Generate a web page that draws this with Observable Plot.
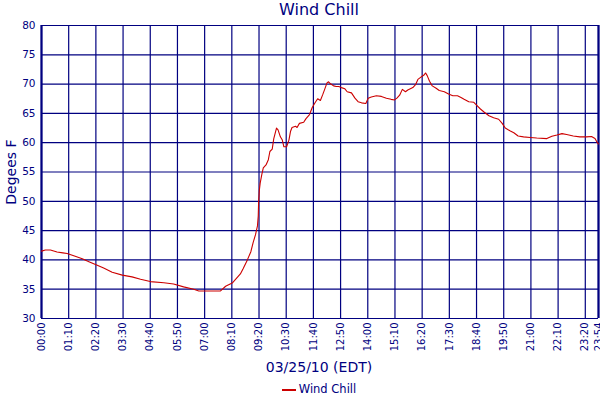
<!DOCTYPE html>
<html>
<head>
<meta charset="utf-8">
<script src="https://cdn.jsdelivr.net/npm/d3@7"></script>
<script src="https://cdn.jsdelivr.net/npm/@observablehq/plot@0.6"></script>
<style>
  html, body { margin: 0; padding: 0; background: #fff; }
  body { width: 600px; height: 400px; overflow: hidden; font-family: "DejaVu Sans", sans-serif; color: #000080; }
  #title { height: 22px; line-height: 20px; font-size: 16px; text-align: center; padding-left: 38px; box-sizing: border-box; }
  #xlabel { height: 24px; line-height: 25px; font-size: 14px; text-align: center; padding-left: 38px; box-sizing: border-box; }
  #legend { height: 21px; line-height: 21px; font-size: 11.5px; text-align: center; padding-left: 38px; box-sizing: border-box; }
  #legend .sw { display: inline-block; width: 14px; height: 0; border-top: 2px solid #cc0000; vertical-align: middle; margin-right: 3px; }
  svg { display: block; overflow: visible; }
</style>
</head>
<body>
<div id="title">Wind Chill</div>
<div id="chart"></div>
<div id="xlabel">03/25/10 (EDT)</div>
<div id="legend"><span class="sw"></span>Wind Chill</div>
<script>
const minutes = [0,10,23,40,55,66,83,105,122,139,160,182,208,233,255,280,315,340,366,392,405,461,474,491,512,519,530,539,545,551,556,558,559,561,563,567,571,578,584,588,594,598,605,609,615,620,624,631,637,641,645,654,658,664,675,681,690,697,705,711,718,724,729,735,739,744,752,759,765,772,781,787,798,807,815,824,835,841,849,862,875,888,900,909,915,922,929,937,943,956,963,969,977,984,989,993,999,1006,1016,1024,1037,1048,1059,1071,1080,1088,1100,1113,1122,1130,1140,1152,1164,1177,1186,1194,1207,1216,1227,1241,1258,1275,1301,1314,1327,1340,1352,1369,1386,1403,1416,1425,1431,1434];
const windChill = [41.5,41.7,41.7,41.35,41.2,41.1,40.7,40.2,39.7,39.2,38.6,37.9,37.4,37.1,36.7,36.3,36.1,35.9,35.4,35.0,34.7,34.7,35.5,36.05,37.6,38.5,40.0,41.4,43,44.3,45.8,47.5,50,52,53.1,54.5,55.7,56.2,57.1,58.5,58.9,60.7,62.5,62.2,61,60.45,59.3,59.3,60.45,61.9,62.6,62.8,62.6,63.3,63.5,64.1,64.8,66,66.9,67.5,67.2,68.2,69.1,70.2,70.4,70.05,69.7,69.6,69.6,69.4,69.2,68.7,68.5,67.6,67.0,66.8,66.7,67.6,67.8,68,67.9,67.6,67.4,67.3,67.6,68.1,69.1,68.7,69,69.4,69.9,70.8,71.2,71.5,71.9,71.45,70.5,69.7,69.3,68.9,68.7,68.3,68.0,68.0,67.7,67.4,67.0,66.9,66.3,65.75,65.2,64.6,64.25,64.0,63.3,62.5,62.0,61.7,61.15,61.0,60.9,60.8,60.7,61.1,61.3,61.55,61.4,61.15,61.0,61.0,61.05,60.7,60.0,59.8];
const xTicks = [0,70,140,210,280,350,420,490,560,630,700,770,840,910,980,1050,1120,1190,1260,1330,1400,1434];
const yTicks = [30,35,40,45,50,55,60,65,70,75,80];
const yLabel = ["Degees F"];

const navy = "#000080";
const fmt = m => String(Math.floor(m / 60)).padStart(2, "0") + ":" + String(m % 60).padStart(2, "0");
const data = minutes.map((m, i) => ({m, v: windChill[i]}));

const chart = Plot.plot({
  width: 600,
  height: 333,
  marginTop: 3,
  marginBottom: 37,
  marginLeft: 41,
  marginRight: 2,
  style: {fontFamily: "DejaVu Sans, sans-serif", fontSize: "10px", color: navy, background: "transparent", overflow: "visible"},
  x: {type: "linear", domain: [0, 1434], ticks: xTicks, tickFormat: fmt, tickRotate: -90, tickSize: 0, tickPadding: 4, label: null},
  y: {domain: [30, 80], ticks: yTicks, tickSize: 0, tickPadding: 6, label: null},
  marks: [
    Plot.gridX(xTicks, {stroke: navy, strokeOpacity: 1, strokeWidth: 1.2}),
    Plot.gridY(yTicks, {stroke: navy, strokeOpacity: 1, strokeWidth: 1.2}),
    Plot.ruleX([0, 1434], {stroke: navy, strokeWidth: 2.2}),
    Plot.line(data, {x: "m", y: "v", stroke: "#cc0000", strokeWidth: 1.1}),
    Plot.axisX({ticks: xTicks, tickFormat: fmt, tickRotate: -90, tickSize: 0, tickPadding: 4, fill: navy, fontSize: 10, label: null}),
    Plot.axisY({ticks: yTicks, tickSize: 0, tickPadding: 6, fill: navy, fontSize: 10.5, label: null}),
    Plot.text(yLabel, {text: d => d, frameAnchor: "left", textAnchor: "middle", dx: -30, rotate: -90, fill: navy, fontSize: 14})
  ]
});
document.getElementById("chart").appendChild(chart);
</script>
</body>
</html>
